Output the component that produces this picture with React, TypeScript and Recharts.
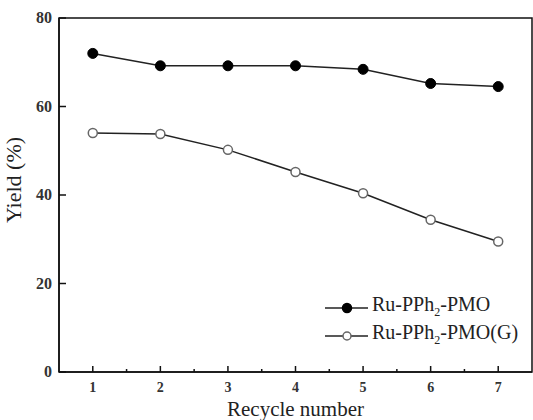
import { LineChart, Line, XAxis, YAxis, ReferenceArea, Legend } from 'recharts';

const cycles = [1, 2, 3, 4, 5, 6, 7];
const ruPmo = [72.0, 69.2, 69.2, 69.2, 68.4, 65.2, 64.5];
const ruPmoG = [54.0, 53.8, 50.2, 45.2, 40.4, 34.4, 29.5];
const xTicks = [1, 1.5, 2, 2.5, 3, 3.5, 4, 4.5, 5, 5.5, 6, 6.5, 7];
const yTicks = [0, 20, 40, 60, 80];

const data = cycles.map((c, i) => ({ cycle: c, pmo: ruPmo[i], pmoG: ruPmoG[i] }));

const serif = '"Liberation Serif", "DejaVu Serif", serif';

const XTick = ({ x, y, payload }: any) => {
  const major = Number.isInteger(payload.value);
  return (
    <g>
      <line x1={x} x2={x} y1={y} y2={y - (major ? 6 : 3)} stroke="#111" strokeWidth={1.5} />
      {major && (
        <text x={x} y={y + 20} textAnchor="middle" fontFamily={serif} fontSize={14} fontWeight="bold" fill="#333">
          {payload.value}
        </text>
      )}
    </g>
  );
};

const YTick = ({ x, y, payload }: any) => (
  <g>
    <line x1={x} x2={x + 7} y1={y} y2={y} stroke="#111" strokeWidth={1.5} />
    <text x={x - 7} y={y + 5} textAnchor="end" fontFamily={serif} fontSize={16} fontWeight="bold" fill="#333">
      {payload.value}
    </text>
  </g>
);

const legendRows = [
  { name: 'PMO', fill: '#000', stroke: '#000' },
  { name: 'PMO(G)', fill: '#fff', stroke: '#666' },
];

const LegendBox = () => (
  <div style={{ fontFamily: serif, color: '#222' }}>
    {legendRows.map((r) => (
      <div key={r.name} style={{ display: 'flex', alignItems: 'center', height: 28 }}>
        <svg width={47} height={28}>
          <line x1={0} x2={43} y1={14} y2={14} stroke="#222" strokeWidth={1.5} />
          <circle cx={22} cy={14} r={r.fill === '#000' ? 4.5 : 4} fill={r.fill} stroke={r.stroke} strokeWidth={1.5} />
        </svg>
        <span style={{ fontSize: 20, lineHeight: '28px', whiteSpace: 'nowrap' }}>
          Ru-PPh<sub style={{ fontSize: 12 }}>2</sub>-{r.name}
        </span>
      </div>
    ))}
  </div>
);

export default function App() {
  return (
    <div style={{ position: 'absolute', left: 0, top: 0, background: '#fff' }}>
      <LineChart width={533} height={420} data={data} margin={{ top: 18, right: 1, bottom: 0, left: 0 }}>
        <XAxis
          dataKey="cycle"
          type="number"
          domain={[0.5, 7.5]}
          ticks={xTicks}
          interval={0}
          height={48}
          tickSize={0}
          tickMargin={0}
          tickLine={false}
          axisLine={{ stroke: '#111', strokeWidth: 1.5 }}
          tick={<XTick />}
          label={{
            content: ({ viewBox }: any) => (
              <text x={viewBox.x + viewBox.width / 2} y={416} textAnchor="middle" fontFamily={serif} fontSize={21} fill="#222">
                Recycle number
              </text>
            ),
          }}
        />
        <YAxis
          type="number"
          domain={[0, 80]}
          ticks={yTicks}
          interval={0}
          width={59}
          tickSize={0}
          tickMargin={0}
          tickLine={false}
          axisLine={{ stroke: '#111', strokeWidth: 1.5 }}
          tick={<YTick />}
          label={{
            content: ({ viewBox }: any) => {
              const cy = viewBox.y + viewBox.height / 2 - 15;
              return (
                <text x={21} y={cy} transform={`rotate(-90 21 ${cy})`} textAnchor="middle" fontFamily={serif} fontSize={22} fill="#222">
                  Yield (%)
                </text>
              );
            },
          }}
        />
        <ReferenceArea x1={0.5} x2={7.5} y1={0} y2={80} fill="none" stroke="#111" strokeWidth={1.5} fillOpacity={0} />
        <Legend
          layout="vertical"
          align="center"
          verticalAlign="middle"
          content={<LegendBox />}
          wrapperStyle={{ position: 'absolute', left: 325, top: 294, width: 'auto' }}
        />
        <Line
          type="linear"
          dataKey="pmo"
          stroke="#222"
          strokeWidth={1.5}
          dot={{ r: 5, fill: '#000', stroke: '#000', strokeWidth: 1 }}
          isAnimationActive={false}
        />
        <Line
          type="linear"
          dataKey="pmoG"
          stroke="#222"
          strokeWidth={1.5}
          dot={{ r: 4.5, fill: '#fff', stroke: '#666', strokeWidth: 1.5 }}
          isAnimationActive={false}
        />
      </LineChart>
    </div>
  );
}
